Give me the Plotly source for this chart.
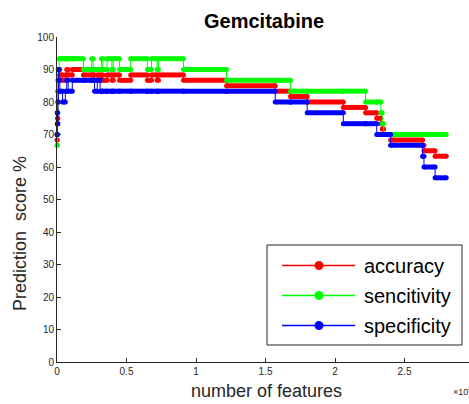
import plotly.graph_objects as go

# ---------------- data (step breakpoints) ----------------
FEATURES = [0, 20, 40, 60, 100, 150, 200, 400, 600, 700, 800, 1100, 1900, 2500, 2600,
            2700, 2900, 3100, 3200, 3300, 3600, 3950, 4050, 4500, 5300, 6500, 6800,
            7200, 7300, 9100, 12200, 15700, 16800, 18000, 20600, 22200, 23000, 23300,
            23400, 23500, 24000, 26300, 26400, 27200]
LAST_FEATURE = 28000

SENSITIVITY = [66.67, 70.00, 76.67, 86.67, 90.00, 93.33, 93.33, 93.33, 93.33, 93.33,
               93.33, 93.33, 90.00, 93.33, 90.00, 90.00, 90.00, 90.00, 93.33, 90.00,
               93.33, 90.00, 93.33, 90.00, 93.33, 90.00, 93.33, 90.00, 93.33, 90.00,
               86.67, 86.67, 83.33, 83.33, 83.33, 80.00, 80.00, 76.67, 73.33, 70.00,
               70.00, 70.00, 70.00, 70.00]
SPECIFICITY = [70.00, 76.67, 73.33, 80.00, 90.00, 86.67, 83.33, 80.00, 83.33, 86.67,
               83.33, 86.67, 86.67, 86.67, 86.67, 83.33, 86.67, 83.33, 83.33, 83.33,
               83.33, 83.33, 83.33, 83.33, 83.33, 83.33, 83.33, 83.33, 83.33, 83.33,
               83.33, 80.00, 80.00, 76.67, 73.33, 73.33, 70.00, 70.00, 70.00, 70.00,
               66.67, 63.33, 60.00, 56.67]
ACCURACY = [68.33, 73.33, 75.00, 83.33, 90.00, 90.00, 88.33, 86.67, 88.33, 90.00,
            88.33, 90.00, 88.33, 90.00, 88.33, 86.67, 88.33, 86.67, 88.33, 86.67,
            88.33, 86.67, 88.33, 86.67, 88.33, 86.67, 88.33, 86.67, 88.33, 86.67,
            85.00, 83.33, 81.67, 80.00, 78.33, 76.67, 75.00, 73.33, 71.67, 70.00,
            68.33, 66.67, 65.00, 63.33]

SERIES_NAMES = ["accuracy", "sencitivity", "specificity"]
SERIES_VALUES = [ACCURACY, SENSITIVITY, SPECIFICITY]
SERIES_COLORS = ["#ff0000", "#00ff00", "#0000ff"]

X_TICKS = [0, 5000, 10000, 15000, 20000, 25000]
X_TICK_LABELS = ["0", "0.5", "1", "1.5", "2", "2.5"]
Y_TICKS = [0, 10, 20, 30, 40, 50, 60, 70, 80, 90, 100]
X_MAX = 29640

TITLE = "Gemcitabine"
X_LABEL = "number of features"
Y_LABEL = "Prediction\u00a0\u00a0score %"

# ---------------- figure geometry ----------------
W, H = 469, 404
ML, MR, MT, MB = 57, 0, 37, 42
PW, PH = W - ML - MR, H - MT - MB


def px(xp):
    return (xp - ML) / PW


def py(yp):
    return (H - MB - yp) / PH


AX = "#262626"
FONT = "Liberation Sans, Arial, sans-serif"

fig = go.Figure()

for name, vals, col in zip(SERIES_NAMES, SERIES_VALUES, SERIES_COLORS):
    # thin connecting step line
    fig.add_trace(go.Scatter(
        x=FEATURES + [LAST_FEATURE], y=vals + [vals[-1]],
        mode="lines", line=dict(color=col, width=1, shape="hv"),
        showlegend=False, cliponaxis=False, hoverinfo="skip"))
    # dense-marker runs (thick horizontal parts)
    bx, by = [], []
    for i, v in enumerate(vals):
        x1 = FEATURES[i + 1] if i + 1 < len(FEATURES) else LAST_FEATURE
        bx += [FEATURES[i], x1, None]
        by += [v, v, None]
    fig.add_trace(go.Scatter(
        x=bx, y=by, mode="lines+markers", name=name,
        line=dict(color=col, width=5),
        marker=dict(color=col, size=5),
        showlegend=False, cliponaxis=False))

# ---------------- manual legend (MATLAB style) ----------------
shapes = [dict(type="rect", xref="paper", yref="paper",
               x0=px(267), x1=px(462), y0=py(345), y1=py(245),
               line=dict(color=AX, width=1), fillcolor="white", layer="above")]
annotations = []
rows = [265.5, 295.5, 325.5]
for (name, col), ry in zip(zip(SERIES_NAMES, SERIES_COLORS), rows):
    shapes.append(dict(type="line", xref="paper", yref="paper",
                       x0=px(282), x1=px(355), y0=py(ry), y1=py(ry),
                       line=dict(color=col, width=1.3), layer="above"))
    r = 4.5
    shapes.append(dict(type="circle", xref="paper", yref="paper",
                       x0=px(319 - r), x1=px(319 + r), y0=py(ry + r), y1=py(ry - r),
                       fillcolor=col, line=dict(color=col, width=0), layer="above"))
    annotations.append(dict(text=name, xref="paper", yref="paper",
                            x=px(362), y=py(ry), xanchor="left", yanchor="middle",
                            showarrow=False, font=dict(family=FONT, size=20, color="black")))

annotations += [
    dict(text="<b>" + TITLE + "</b>", xref="paper", yref="paper", x=px(264), y=py(20.5),
         xanchor="center", yanchor="middle", showarrow=False,
         font=dict(family=FONT, size=20, color="black")),
    dict(text=X_LABEL, xref="paper", yref="paper", x=px(266), y=py(391),
         xanchor="center", yanchor="middle", showarrow=False,
         font=dict(family=FONT, size=18, color=AX)),
    dict(text=Y_LABEL, xref="paper", yref="paper", x=px(20), y=py(234),
         xanchor="center", yanchor="middle", textangle=-90, showarrow=False,
         font=dict(family=FONT, size=18, color=AX)),
    dict(text="\u00d710<sup>4</sup>", xref="paper", yref="paper", x=px(451), y=py(391),
         xanchor="left", yanchor="middle", showarrow=False,
         font=dict(family=FONT, size=9, color=AX)),
]

fig.update_layout(
    width=W, height=H,
    margin=dict(l=ML, r=MR, t=MT, b=MB, pad=0),
    paper_bgcolor="white", plot_bgcolor="white",
    showlegend=False,
    shapes=shapes, annotations=annotations,
    font=dict(family=FONT, color=AX),
    xaxis=dict(range=[0, X_MAX], showgrid=False, zeroline=False,
               showline=True, linecolor=AX, linewidth=1, ticks="inside", ticklen=4,
               tickcolor=AX, tickwidth=1, tickvals=X_TICKS, ticktext=X_TICK_LABELS,
               tickfont=dict(family=FONT, size=10, color=AX)),
    yaxis=dict(range=[0, 100], showgrid=False, zeroline=False,
               showline=True, linecolor=AX, linewidth=1, ticks="inside", ticklen=4,
               tickcolor=AX, tickwidth=1, tickvals=Y_TICKS,
               tickfont=dict(family=FONT, size=10, color=AX)),
)

fig.write_html("out.html",
               config={"displayModeBar": False},
               post_script="document.body.style.margin='0';document.body.style.padding='0';")
